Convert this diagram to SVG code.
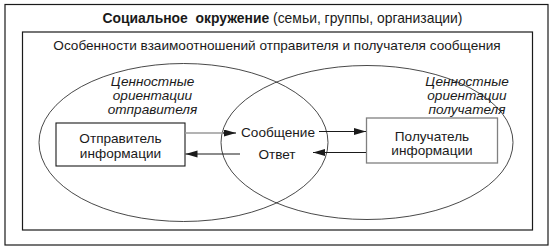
<svg xmlns="http://www.w3.org/2000/svg" width="555" height="251" viewBox="0 0 555 251">
  <style>
    text { font-family: "Liberation Sans", Arial, sans-serif; font-size: 13.6px; fill: #1a1a1a; }
    .t { font-size: 13.9px; }
    .b { font-weight: bold; }
    .it { font-style: italic; }
    .frame { fill: none; stroke: #1a1a1a; stroke-width: 1.2; }
    .ell { fill: none; stroke: #1a1a1a; stroke-width: 0.8; }
    .box { fill: #fff; stroke: #1a1a1a; stroke-width: 1.1; }
    .box2 { fill: #fff; stroke: #808080; stroke-width: 1.3; }
    .con { stroke: #1a1a1a; stroke-width: 1.1; fill: none; }
    .gray { stroke: #9a9a9a; stroke-width: 1.6; }
  </style>
  <defs>
    <marker id="ah" markerUnits="userSpaceOnUse" markerWidth="13" markerHeight="8" refX="12" refY="3.5" orient="auto">
      <path d="M0,0 L12,3.5 L0,7 z" fill="#1a1a1a"/>
    </marker>
  </defs>
  <rect width="555" height="251" fill="#fff"/>
  <g id="outer">
    <rect class="frame" x="5" y="4.5" width="543" height="240.5"/>
    <text class="t" x="282.5" y="22.5" text-anchor="middle"><tspan class="b">Социальное&#160; окружение</tspan> (семьи, группы, организации)</text>
  </g>
  <g id="inner">
    <rect class="frame" x="22.5" y="32" width="510" height="198"/>
    <text x="277" y="50" text-anchor="middle">Особенности взаимоотношений отправителя и получателя сообщения</text>
  </g>
  <g id="sender-values">
    <ellipse class="ell" cx="183.5" cy="142.5" rx="144.5" ry="79"/>
    <text class="it" x="152.5" y="85.5" text-anchor="middle">Ценностные</text>
    <text class="it" x="152.5" y="99.5" text-anchor="middle">ориентации</text>
    <text class="it" x="152.5" y="113.5" text-anchor="middle">отправителя</text>
  </g>
  <g id="receiver-values">
    <ellipse class="ell" cx="367" cy="142.5" rx="146" ry="77"/>
    <text class="it" x="467" y="85.5" text-anchor="middle">Ценностные</text>
    <text class="it" x="467" y="99.5" text-anchor="middle">ориентации</text>
    <text class="it" x="467" y="113.5" text-anchor="middle">получателя</text>
  </g>
  <g id="sender">
    <rect class="box" x="56" y="123" width="129" height="43"/>
    <text x="120.5" y="142.5" text-anchor="middle">Отправитель</text>
    <text x="120.5" y="157.5" text-anchor="middle">информации</text>
  </g>
  <g id="receiver">
    <rect class="box2" x="366.5" y="118" width="131" height="45"/>
    <text x="432" y="140.5" text-anchor="middle">Получатель</text>
    <text x="432" y="154.5" text-anchor="middle">информации</text>
  </g>
  <g id="message">
    <text x="278" y="136.5" text-anchor="middle">Сообщение</text>
  </g>
  <g id="answer">
    <text x="277" y="158.5" text-anchor="middle">Ответ</text>
  </g>
  <g id="connectors">
    <line class="gray" x1="185" y1="133" x2="224" y2="133"/>
    <line class="con" x1="223" y1="133" x2="236" y2="133" marker-end="url(#ah)"/>
    <line class="con" x1="319" y1="131.5" x2="366" y2="131.5" marker-end="url(#ah)"/>
    <line class="con" x1="366" y1="152.5" x2="313" y2="152.5" marker-end="url(#ah)"/>
    <line class="con" x1="240" y1="154" x2="185.5" y2="154" marker-end="url(#ah)"/>
  </g>
</svg>
